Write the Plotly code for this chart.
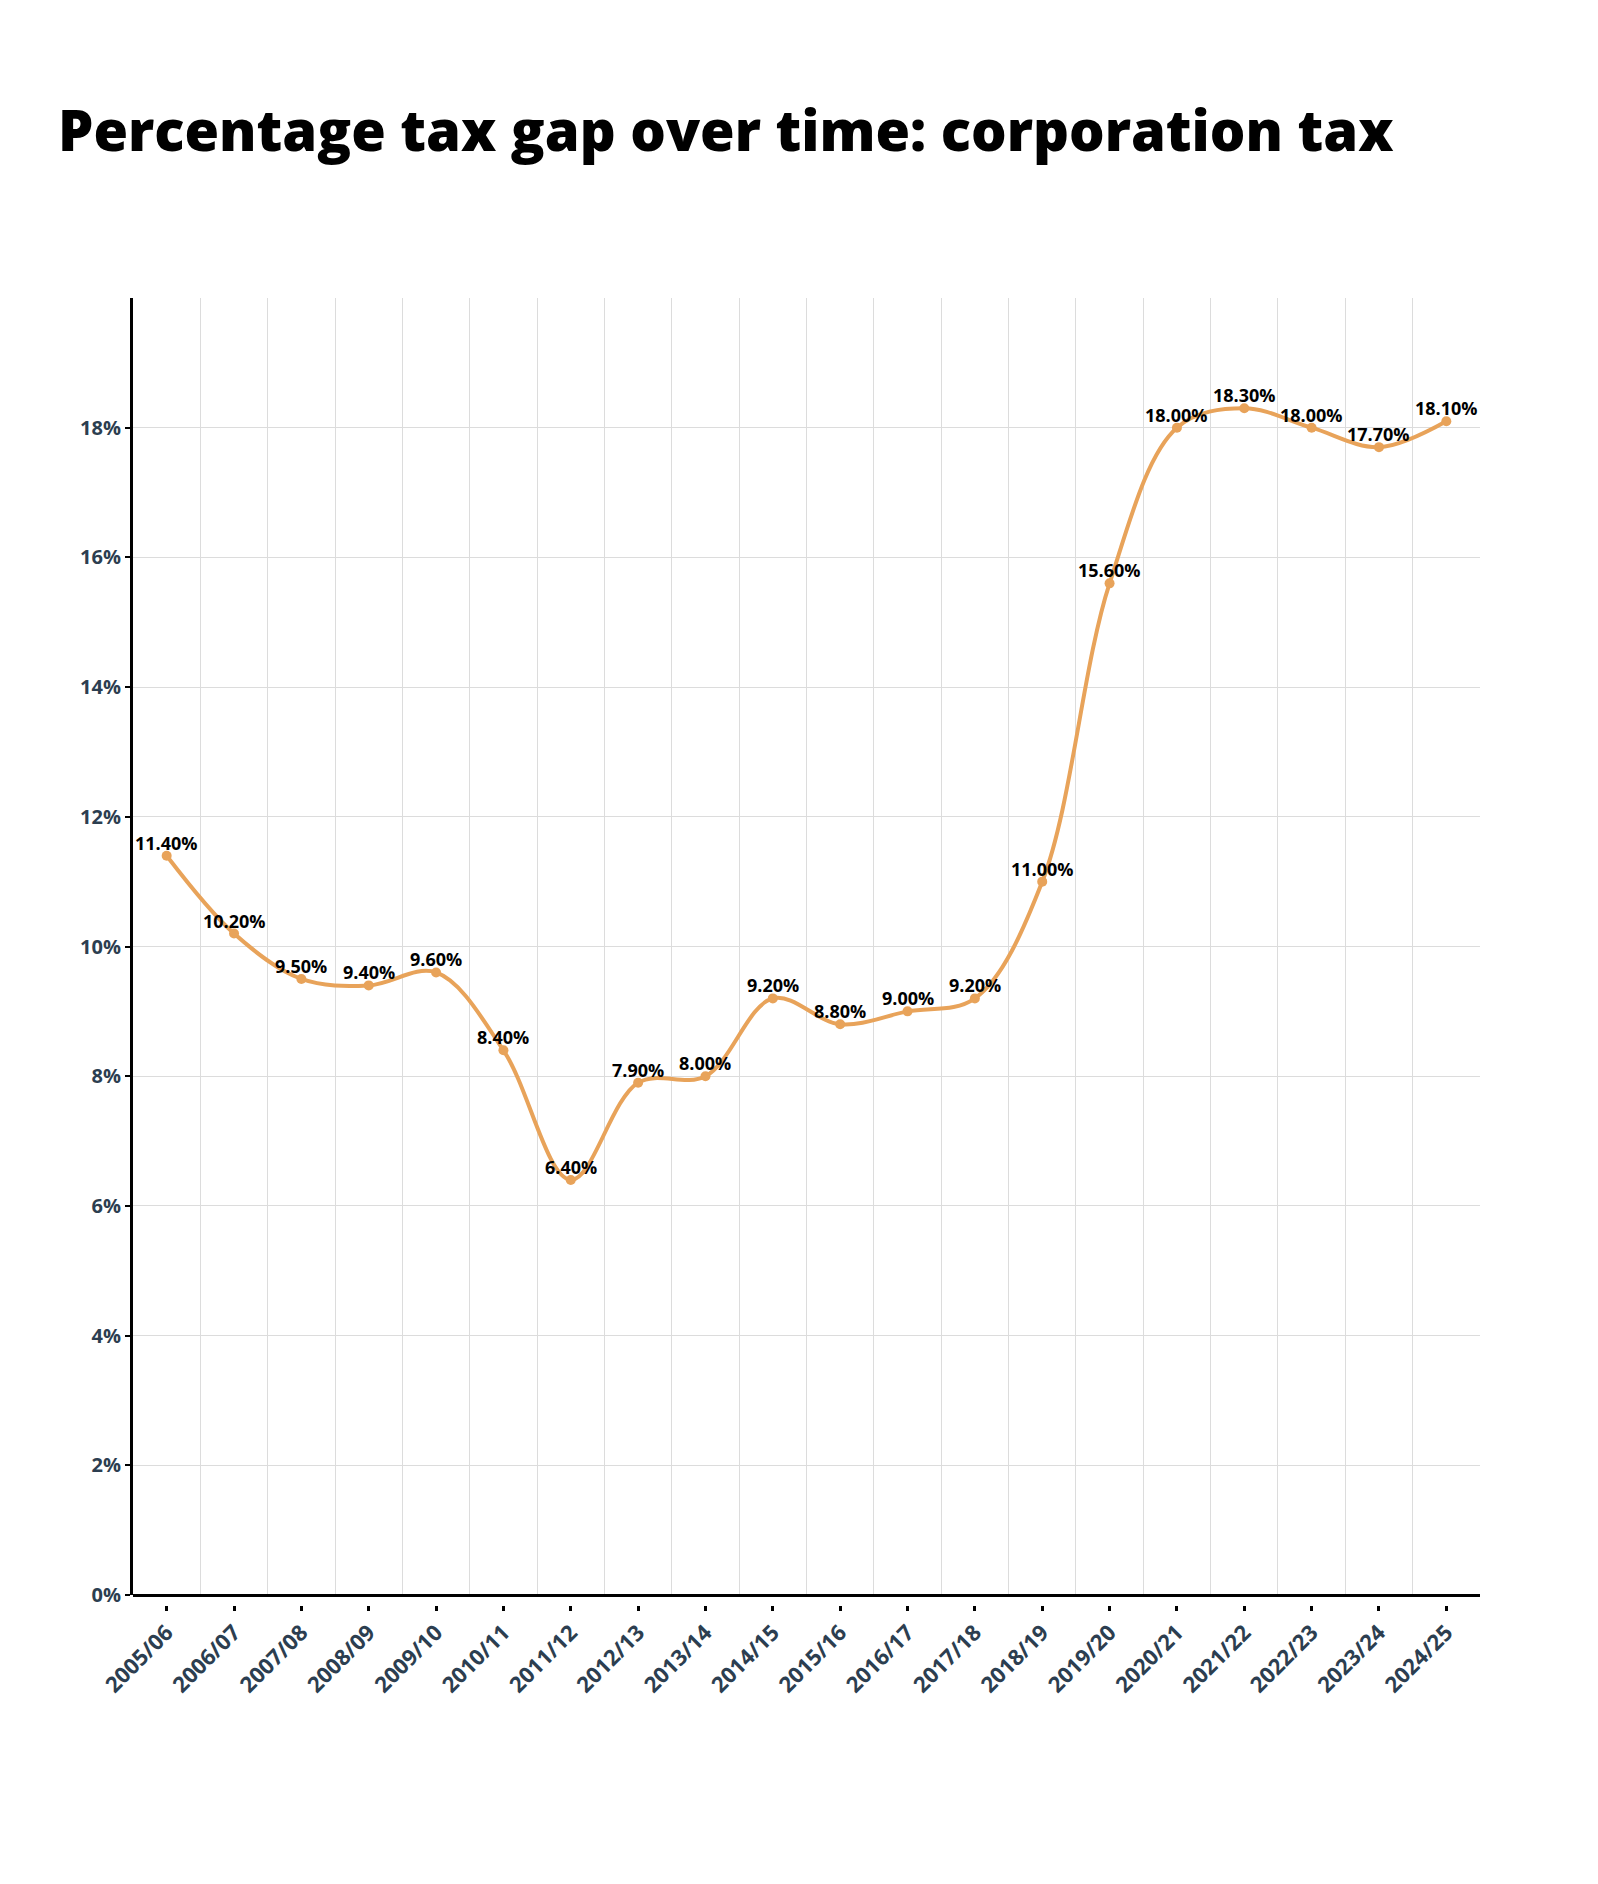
import plotly.graph_objects as go

years = ["2005/06", "2006/07", "2007/08", "2008/09", "2009/10", "2010/11", "2011/12",
         "2012/13", "2013/14", "2014/15", "2015/16", "2016/17", "2017/18", "2018/19",
         "2019/20", "2020/21", "2021/22", "2022/23", "2023/24", "2024/25"]
tax_gap = [11.4, 10.2, 9.5, 9.4, 9.6, 8.4, 6.4, 7.9, 8.0, 9.2, 8.8, 9.0, 9.2, 11.0,
           15.6, 18.0, 18.3, 18.0, 17.7, 18.1]
y_ticks = [0, 2, 4, 6, 8, 10, 12, 14, 16, 18]
y_ticktext = [f"{v}%" for v in y_ticks]

idx = list(range(len(years)))
labels = [f"{v:.2f}%" for v in tax_gap]

W, H = 1598, 1884
top, bottom_axis = 298, 1605
plot_h = bottom_axis - top
dom0 = 10 / plot_h
FONT = "Open Sans"

fig = go.Figure()
fig.add_trace(go.Scatter(
    x=idx, y=tax_gap, mode="lines+markers",
    line=dict(color="#E8A35A", width=4, shape="spline", smoothing=1),
    marker=dict(color="#E8A35A", size=10),
    cliponaxis=False, hoverinfo="skip",
))

for xi, yi, lab in zip(idx, tax_gap, labels):
    fig.add_annotation(
        x=xi, y=yi, text=lab, showarrow=False,
        xanchor="center", yanchor="bottom", yshift=-1,
        font=dict(family=FONT, size=18, color="#000000", weight="bold"),
    )

fig.update_layout(
    width=W, height=H,
    paper_bgcolor="white", plot_bgcolor="white",
    margin=dict(l=133, r=W - 1480, t=top, b=H - bottom_axis),
    showlegend=False,
    title=dict(text="Percentage tax gap over time: corporation tax",
               x=58 / W, xanchor="left", y=1 - 131 / H, yanchor="middle",
               font=dict(family=FONT, size=56, color="#000000", weight=800)),
    xaxis=dict(
        type="linear", range=[-0.5, len(years) - 0.5],
        tickvals=idx, ticktext=years, tickangle=-45,
        anchor="free", position=0,
        showline=False, zeroline=False, showgrid=False,
        ticks="outside", ticklen=5, tickwidth=3, tickcolor="#000000",
        tickfont=dict(family=FONT, size=22, color="#2c3e50", weight="bold"),
        minor=dict(tick0=-0.5, dtick=1, showgrid=True, gridcolor="#dcdcdc",
                   gridwidth=1, ticks=""),
    ),
    yaxis=dict(
        range=[0, 20], domain=[dom0, 1],
        tickvals=y_ticks, ticktext=y_ticktext,
        showline=True, linecolor="#000000", linewidth=3,
        zeroline=True, zerolinecolor="#000000", zerolinewidth=3,
        showgrid=True, gridcolor="#dcdcdc", gridwidth=1,
        ticks="outside", ticklen=5, tickwidth=2, tickcolor="#000000",
        tickfont=dict(family=FONT, size=20, color="#2c3e50", weight="bold"),
        minor=dict(tick0=0, dtick=2, showgrid=True, gridcolor="#dcdcdc",
                   gridwidth=1, ticks=""),
    ),
)

fig.write_html("out.html")
